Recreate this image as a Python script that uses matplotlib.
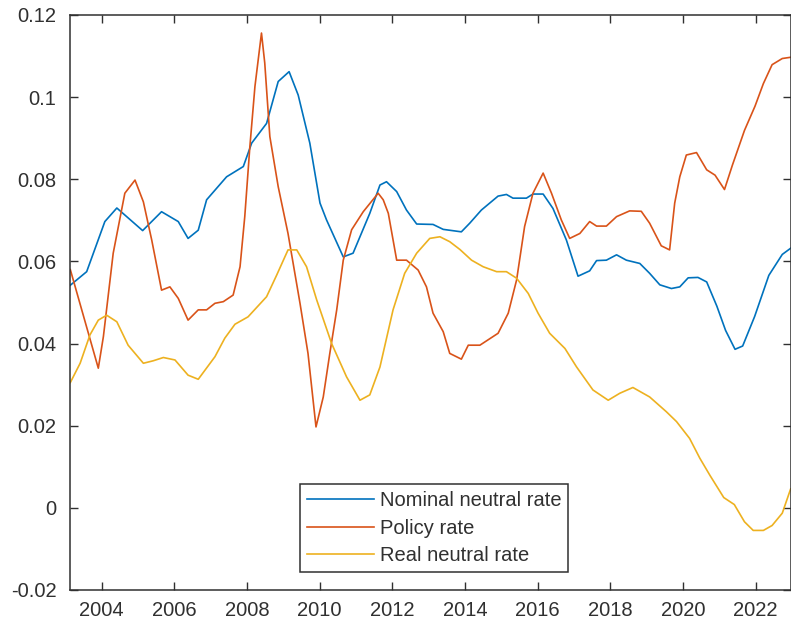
import matplotlib
matplotlib.use("Agg")
import matplotlib.pyplot as plt

# (year, value) vertices
nominal_t = [2003.14, 2003.59, 2004.09, 2004.42, 2005.13, 2005.65, 2006.11, 2006.38, 2006.66, 2006.89,
             2007.44, 2007.90, 2008.13, 2008.54, 2008.86, 2009.16, 2009.41, 2009.73, 2010.01, 2010.19,
             2010.65, 2010.92, 2011.38, 2011.66, 2011.84, 2012.12, 2012.39, 2012.67, 2013.12, 2013.40,
             2013.90, 2014.13, 2014.45, 2014.91, 2015.14, 2015.32, 2015.69, 2015.87, 2016.15, 2016.42,
             2016.79, 2017.11, 2017.43, 2017.62, 2017.89, 2018.17, 2018.44, 2018.81, 2019.08, 2019.36,
             2019.68, 2019.91, 2020.14, 2020.41, 2020.65, 2020.93, 2021.17, 2021.43, 2021.64, 2021.97,
             2022.36, 2022.73, 2022.96]
nominal_v = [0.0542, 0.0575, 0.0697, 0.0730, 0.0675, 0.0721, 0.0697, 0.0656, 0.0676, 0.0750,
             0.0806, 0.0831, 0.0888, 0.0936, 0.1038, 0.1062, 0.1005, 0.0888, 0.0742, 0.0701,
             0.0611, 0.0620, 0.0717, 0.0786, 0.0794, 0.0770, 0.0725, 0.0691, 0.0690, 0.0678,
             0.0672, 0.0693, 0.0725, 0.0759, 0.0763, 0.0754, 0.0754, 0.0764, 0.0764, 0.0729,
             0.0652, 0.0564, 0.0577, 0.0602, 0.0603, 0.0616, 0.0603, 0.0595, 0.0571, 0.0543,
             0.0534, 0.0538, 0.0560, 0.0561, 0.0550, 0.0491, 0.0432, 0.0386, 0.0394, 0.0466,
             0.0566, 0.0617, 0.0632]

policy_t = [2003.14, 2003.91, 2004.05, 2004.32, 2004.64, 2004.92, 2005.15, 2005.38, 2005.65, 2005.88,
            2006.11, 2006.38, 2006.66, 2006.89, 2007.12, 2007.35, 2007.62, 2007.81, 2007.94, 2008.08,
            2008.22, 2008.40, 2008.49, 2008.63, 2008.86, 2009.13, 2009.46, 2009.68, 2009.90, 2010.10,
            2010.28, 2010.47, 2010.65, 2010.88, 2011.20, 2011.61, 2011.75, 2011.89, 2012.12, 2012.39,
            2012.71, 2012.94, 2013.12, 2013.40, 2013.58, 2013.90, 2014.09, 2014.41, 2014.91, 2015.19,
            2015.42, 2015.64, 2015.87, 2016.15, 2016.38, 2016.65, 2016.88, 2017.16, 2017.43, 2017.62,
            2017.89, 2018.17, 2018.53, 2018.85, 2019.08, 2019.40, 2019.63, 2019.77, 2019.91, 2020.09,
            2020.37, 2020.65, 2020.88, 2021.14, 2021.36, 2021.69, 2021.98, 2022.21, 2022.45, 2022.73,
            2022.96]
policy_v = [0.0580, 0.0340, 0.0417, 0.0620, 0.0766, 0.0798, 0.0745, 0.0652, 0.0530, 0.0538,
            0.0510, 0.0457, 0.0482, 0.0482, 0.0498, 0.0502, 0.0518, 0.0587, 0.0709, 0.0879,
            0.1026, 0.1156, 0.1083, 0.0904, 0.0782, 0.0668, 0.0498, 0.0376, 0.0197, 0.0270,
            0.0376, 0.0482, 0.0603, 0.0677, 0.0721, 0.0766, 0.0750, 0.0717, 0.0603, 0.0603,
            0.0579, 0.0538, 0.0474, 0.0429, 0.0376, 0.0362, 0.0396, 0.0396, 0.0425, 0.0474,
            0.0555, 0.0685, 0.0766, 0.0815, 0.0766, 0.0701, 0.0656, 0.0668, 0.0697, 0.0686,
            0.0686, 0.0709, 0.0723, 0.0722, 0.0693, 0.0638, 0.0628, 0.0742, 0.0806, 0.0859,
            0.0865, 0.0823, 0.0810, 0.0775, 0.0835, 0.0919, 0.0978, 0.1033, 0.1079, 0.1094,
            0.1097]

real_t = [2003.14, 2003.41, 2003.68, 2003.91, 2004.14, 2004.42, 2004.73, 2005.15, 2005.42, 2005.70,
          2006.02, 2006.38, 2006.66, 2007.12, 2007.39, 2007.67, 2008.03, 2008.54, 2008.82, 2009.13,
          2009.37, 2009.64, 2009.92, 2010.33, 2010.74, 2011.11, 2011.38, 2011.66, 2012.02, 2012.34,
          2012.67, 2013.03, 2013.31, 2013.58, 2013.86, 2014.18, 2014.50, 2014.87, 2015.14, 2015.42,
          2015.74, 2016.01, 2016.33, 2016.75, 2017.07, 2017.52, 2017.94, 2018.26, 2018.62, 2019.08,
          2019.54, 2019.82, 2020.18, 2020.46, 2020.74, 2021.12, 2021.41, 2021.69, 2021.93, 2022.21,
          2022.45, 2022.73, 2022.96]
real_v = [0.0305, 0.0352, 0.0421, 0.0457, 0.0469, 0.0453, 0.0396, 0.0352, 0.0358, 0.0366,
          0.0360, 0.0323, 0.0313, 0.0368, 0.0413, 0.0447, 0.0465, 0.0514, 0.0567, 0.0628,
          0.0628, 0.0587, 0.0506, 0.0400, 0.0319, 0.0262, 0.0275, 0.0343, 0.0482, 0.0571,
          0.0620, 0.0656, 0.0660, 0.0648, 0.0629, 0.0603, 0.0587, 0.0575, 0.0575, 0.0559,
          0.0522, 0.0474, 0.0425, 0.0388, 0.0343, 0.0287, 0.0262, 0.0279, 0.0293, 0.0270,
          0.0234, 0.0210, 0.0169, 0.0121, 0.0079, 0.0025, 0.0008, -0.0034, -0.0055, -0.0055,
          -0.0043, -0.0013, 0.0046]

labels = ['Nominal neutral rate', 'Policy rate', 'Real neutral rate']
xticks = list(range(2004, 2023, 2))
yticks = [-0.02, 0, 0.02, 0.04, 0.06, 0.08, 0.1, 0.12]
ytick_labels = ['-0.02', '0', '0.02', '0.04', '0.06', '0.08', '0.1', '0.12']

plt.rcParams['font.family'] = ['Liberation Sans', 'DejaVu Sans']
axcol = '#303030'

fig = plt.figure(figsize=(7.91, 6.32), dpi=100)
ax = fig.add_axes([0.0889, 0.0665, 0.9111, 0.9098])

ax.plot(nominal_t, nominal_v, color='#0072BD', lw=1.2, label=labels[0])
ax.plot(policy_t, policy_v, color='#D95319', lw=1.2, label=labels[1])
ax.plot(real_t, real_v, color='#EDB120', lw=1.2, label=labels[2])

ax.set_xlim(2003.14, 2022.97)
ax.set_ylim(-0.02, 0.12)
ax.set_xticks(xticks)
ax.set_yticks(yticks)
ax.set_yticklabels(ytick_labels)
ax.tick_params(direction='in', length=6, width=1, colors=axcol, labelsize=14.5,
               top=True, right=True)
ax.tick_params(axis='x', pad=8)
ax.tick_params(axis='y', pad=10)
for s in ax.spines.values():
    s.set_color(axcol)
    s.set_linewidth(1.1)

leg = ax.legend(loc='lower center', bbox_to_anchor=(0.505, 0.031), borderaxespad=0,
                fontsize=14.5, handlelength=3.3, handletextpad=0.3, borderpad=0.35,
                labelspacing=0.42, fancybox=False, framealpha=1)
leg.get_frame().set_edgecolor(axcol)
leg.get_frame().set_linewidth(1.1)
for t in leg.get_texts():
    t.set_color(axcol)

fig.savefig('out.png', dpi=100)
